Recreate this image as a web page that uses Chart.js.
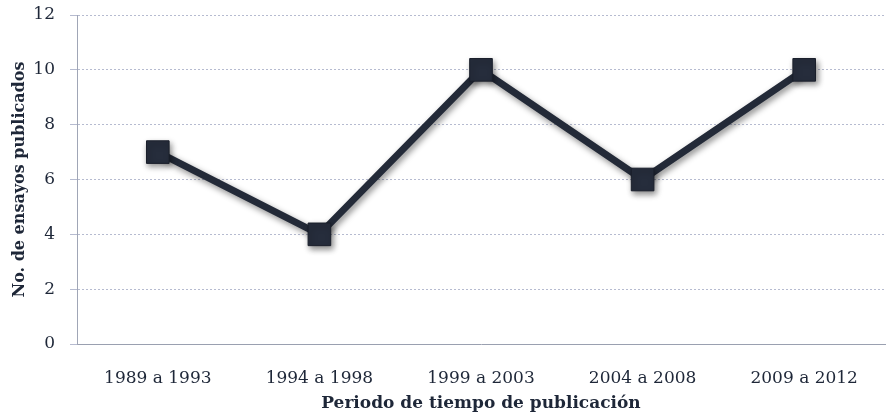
<!DOCTYPE html>
<html>
<head>
<meta charset="utf-8">
<script src="https://cdn.jsdelivr.net/npm/chart.js@4/dist/chart.umd.min.js"></script>
<style>
  html, body { margin: 0; padding: 0; background: #fff; overflow: hidden; }
  canvas { display: block; }
</style>
</head>
<body>
<canvas id="grafico" width="890" height="419"></canvas>
<script>
// datos
const periodos = ["1989 a 1993", "1994 a 1998", "1999 a 2003", "2004 a 2008", "2009 a 2012"];
const ensayos = [7, 4, 10, 6, 10];
const ticksY = [0, 2, 4, 6, 8, 10, 12];

const fuente = "'DejaVu Serif', 'Liberation Serif', serif";
const colorTexto = "#1e2738";

// sombra bajo la linea y los marcadores
const sombra = {
  id: "sombra",
  beforeDatasetDraw(chart) {
    const ctx = chart.ctx;
    ctx.save();
    ctx.shadowColor = "rgba(0,0,0,0.45)";
    ctx.shadowBlur = 6;
    ctx.shadowOffsetX = 2;
    ctx.shadowOffsetY = 3;
  },
  afterDatasetDraw(chart) {
    chart.ctx.restore();
  }
};

new Chart(document.getElementById("grafico"), {
  type: "line",
  data: {
    labels: periodos,
    datasets: [{
      data: ensayos,
      borderColor: "#232a38",
      borderWidth: 7,
      tension: 0,
      clip: false,
      pointStyle: "rect",
      pointRadius: 16,
      pointHoverRadius: 16,
      pointBackgroundColor: "#262d3c",
      pointBorderColor: "#1a1f2b",
      pointBorderWidth: 1
    }]
  },
  options: {
    responsive: false,
    animation: false,
    layout: { autoPadding: false, padding: { top: 15, right: 5, left: 0, bottom: 0 } },
    plugins: { legend: { display: false }, tooltip: { enabled: false } },
    scales: {
      x: {
        offset: true,
        grid: { display: false, drawTicks: false },
        border: { color: "#9aa0b0", width: 1 },
        ticks: { color: colorTexto, font: { family: fuente, size: 17 }, padding: 24 },
        title: { display: true, text: "Periodo de tiempo de publicación", color: colorTexto,
                 font: { family: fuente, size: 17, weight: "bold" }, padding: { top: 4, bottom: 5 } },
        afterFit(s) { s.paddingLeft = 0; s.paddingRight = 0; s.height = 75; }
      },
      y: {
        min: 0,
        max: 12,
        afterBuildTicks(axis) { axis.ticks = ticksY.map(v => ({ value: v })); },
        grid: { color: "#b6bbd0", lineWidth: 1, tickLength: 7 },
        border: { color: "#a0a6b6", width: 1, dash: [2, 2] },
        ticks: { color: colorTexto, font: { family: fuente, size: 17 }, padding: 15 },
        title: { display: true, text: "No. de ensayos publicados", color: colorTexto,
                 font: { family: fuente, size: 16, weight: "bold" }, padding: { top: 10, bottom: 10 } },
        afterFit(s) { s.paddingTop = 0; s.paddingBottom = 0; s.width = 77; }
      }
    }
  },
  plugins: [sombra]
});
</script>
</body>
</html>
